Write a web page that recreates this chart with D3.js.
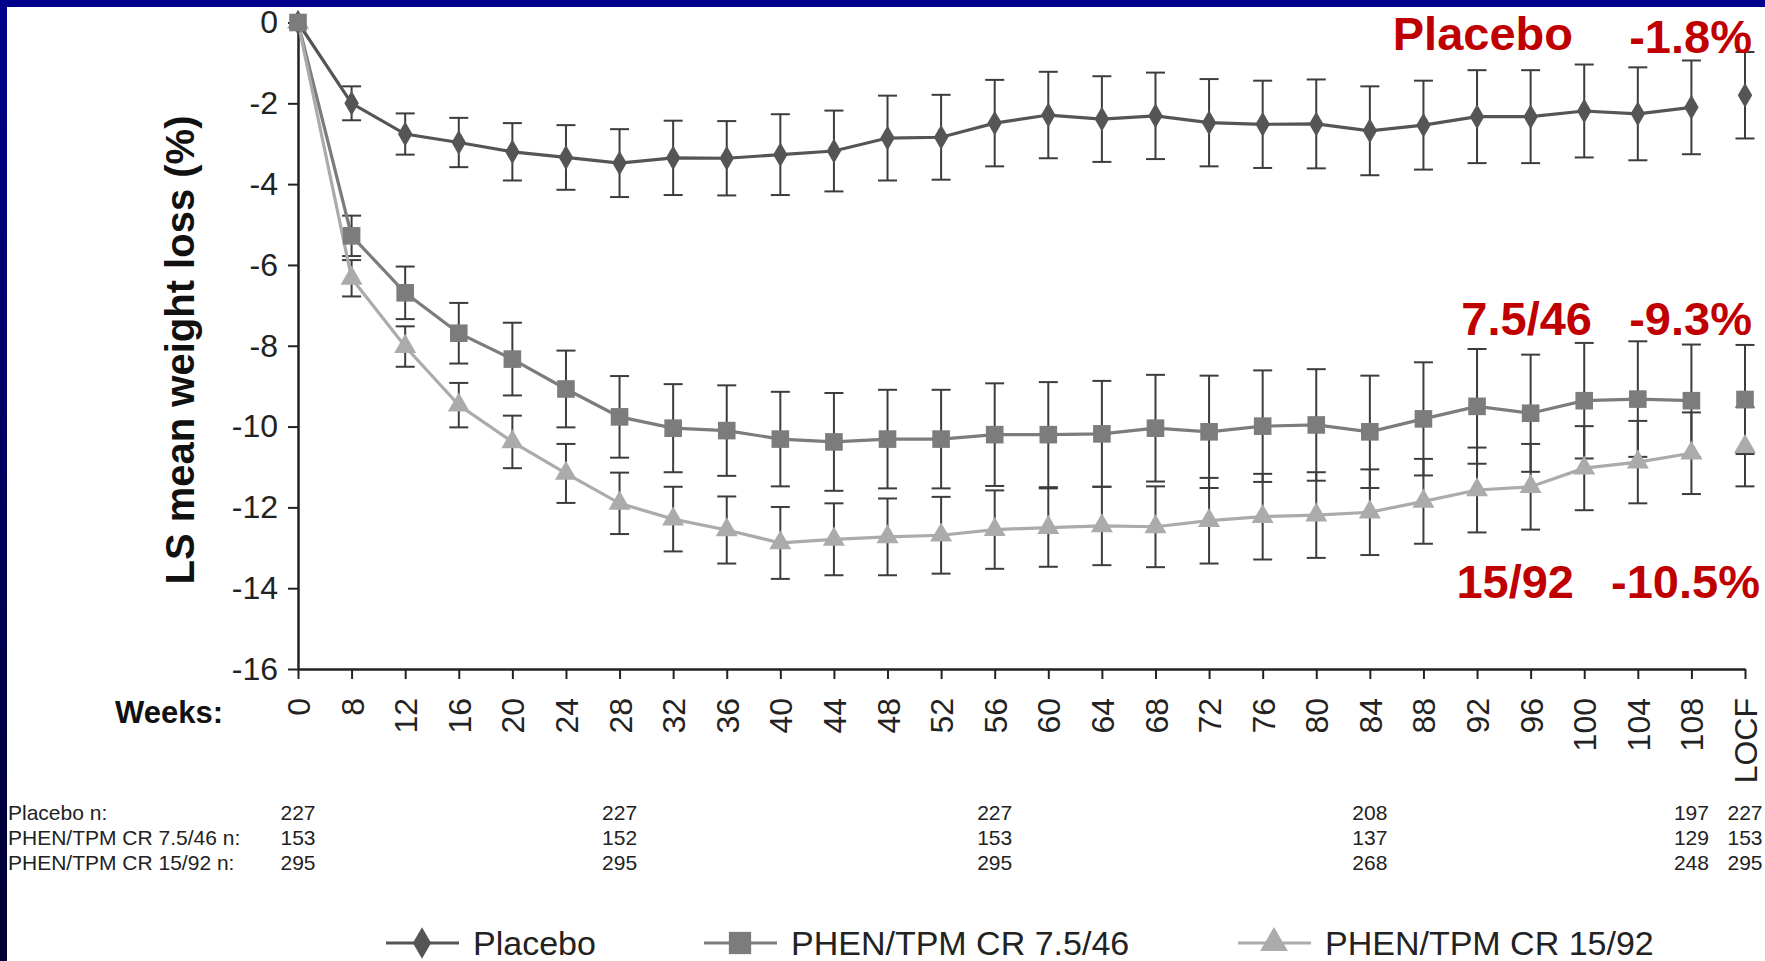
<!DOCTYPE html>
<html>
<head>
<meta charset="utf-8">
<script src="https://cdn.jsdelivr.net/npm/d3@7"></script>
<style>
  html, body { margin: 0; padding: 0; background: #fff; }
  svg { display: block; font-family: "Liberation Sans", Arial, sans-serif; }
</style>
</head>
<body>
<script>
// categories on the x axis
const weeks = ["0", "8", "12", "16", "20", "24", "28", "32", "36", "40", "44", "48", "52", "56",
  "60", "64", "68", "72", "76", "80", "84", "88", "92", "96", "100", "104", "108", "LOCF"];

// LS mean weight loss (%) and error half-widths
const placeboMean = [0, -2.0, -2.76, -2.97, -3.2, -3.34, -3.48, -3.35, -3.36, -3.27, -3.18, -2.86, -2.84, -2.49,
  -2.29, -2.39, -2.31, -2.48, -2.52, -2.51, -2.68, -2.54, -2.33, -2.33, -2.19, -2.26, -2.1, -1.8];
const placeboErr = [0, 0.42, 0.51, 0.61, 0.71, 0.8, 0.84, 0.92, 0.92, 1.0, 1.0, 1.05, 1.05, 1.07,
  1.07, 1.06, 1.07, 1.08, 1.08, 1.1, 1.1, 1.1, 1.15, 1.15, 1.15, 1.15, 1.16, 1.07];

const lowMean = [0, -5.28, -6.69, -7.69, -8.33, -9.07, -9.76, -10.04, -10.1, -10.31, -10.38, -10.31, -10.31, -10.2,
  -10.2, -10.18, -10.04, -10.13, -9.99, -9.96, -10.13, -9.81, -9.5, -9.67, -9.36, -9.32, -9.36, -9.33];
const lowErr = [0, 0.5, 0.65, 0.75, 0.9, 0.95, 1.01, 1.09, 1.12, 1.17, 1.21, 1.22, 1.22, 1.27,
  1.3, 1.31, 1.32, 1.39, 1.38, 1.38, 1.39, 1.4, 1.42, 1.45, 1.43, 1.43, 1.39, 1.35];

const highMean = [0, -6.33, -8.02, -9.47, -10.38, -11.16, -11.9, -12.29, -12.56, -12.88, -12.79, -12.73, -12.69, -12.55,
  -12.5, -12.46, -12.48, -12.33, -12.23, -12.19, -12.12, -11.85, -11.57, -11.49, -11.03, -10.88, -10.66, -10.5];
const highErr = [0, 0.45, 0.5, 0.55, 0.65, 0.73, 0.76, 0.8, 0.83, 0.89, 0.89, 0.95, 0.95, 0.97,
  0.97, 0.97, 1.0, 1.06, 1.06, 1.06, 1.06, 1.05, 1.05, 1.06, 1.04, 1.02, 1.01, 0.98];

const yTicks = [0, -2, -4, -6, -8, -10, -12, -14, -16];

// patients at risk table
const nWeeks = ["0", "28", "56", "84", "108", "LOCF"];
const nRowLabels = ["Placebo n:", "PHEN/TPM CR 7.5/46 n:", "PHEN/TPM CR 15/92 n:"];
const placeboN = [227, 227, 227, 208, 197, 227];
const lowN = [153, 152, 153, 137, 129, 153];
const highN = [295, 295, 295, 268, 248, 295];

// red call-outs
const calloutNames = ["Placebo", "7.5/46", "15/92"];
const calloutValues = ["-1.8%", "-9.3%", "-10.5%"];

const width = 1765, height = 961;

const svg = d3.select("body").append("svg")
  .attr("width", width)
  .attr("height", height);

// navy frame
const grad = svg.append("defs").append("linearGradient")
  .attr("id", "leftBand").attr("x1", 0).attr("y1", 0).attr("x2", 0).attr("y2", 1);
grad.append("stop").attr("offset", "0%").attr("stop-color", "#00008c");
grad.append("stop").attr("offset", "100%").attr("stop-color", "#000032");
svg.append("rect").attr("width", width).attr("height", 7).attr("fill", "#00008c");
svg.append("rect").attr("width", 7).attr("height", height).attr("fill", "url(#leftBand)");

// scales
const x = d3.scalePoint().domain(weeks).range([298, 1745]);
const y = d3.scaleLinear().domain([-16, 0]).range([669, 22.5]);

const series = [
  { name: "Placebo", mean: placeboMean, err: placeboErr, color: "#555555", shape: d3.symbolDiamond, size: 180 },
  { name: "PHEN/TPM CR 7.5/46", mean: lowMean, err: lowErr, color: "#7c7c7c", shape: d3.symbolSquare, size: 310 },
  { name: "PHEN/TPM CR 15/92", mean: highMean, err: highErr, color: "#ababab", shape: d3.symbolTriangle, size: 210 }
];

// axes
const yAxis = d3.axisLeft(y).tickValues(yTicks).tickSize(10).tickSizeOuter(0).tickFormat(d => String(d));
const gy = svg.append("g").attr("transform", "translate(298,0)").call(yAxis);
gy.select(".domain").attr("stroke", "#222").attr("stroke-width", 2.5);
gy.selectAll(".tick line").attr("stroke", "#222").attr("stroke-width", 2);
gy.selectAll(".tick text")
  .attr("x", -20)
  .attr("fill", "#222")
  .style("font-size", "32px");

const xAxis = d3.axisBottom(x).tickSize(10).tickSizeOuter(0);
const gx = svg.append("g").attr("transform", "translate(0,669)").call(xAxis);
gx.select(".domain").attr("stroke", "#222").attr("stroke-width", 2.5);
gx.selectAll(".tick line").attr("stroke", "#222").attr("stroke-width", 2);
gx.selectAll(".tick text")
  .attr("transform", "rotate(-90)")
  .attr("x", -29)
  .attr("y", 0)
  .attr("dy", "0.36em")
  .attr("fill", "#222")
  .style("text-anchor", "end")
  .style("font-size", "32px");

svg.append("text")
  .attr("x", 223).attr("y", 723)
  .attr("text-anchor", "end")
  .attr("font-weight", "bold")
  .attr("font-size", 31)
  .attr("fill", "#111")
  .text("Weeks:");

svg.append("text")
  .attr("transform", "translate(194,350) rotate(-90)")
  .attr("text-anchor", "middle")
  .attr("font-weight", "bold")
  .attr("font-size", 40)
  .attr("fill", "#111")
  .text("LS mean weight loss (%)");

// error bars
const capHalf = 9.5;
series.forEach(s => {
  const g = svg.append("g").attr("stroke", "#3c3c3c").attr("stroke-width", 2);
  weeks.forEach((w, i) => {
    if (s.err[i] === 0) return;
    const top = y(s.mean[i] + s.err[i]), bot = y(s.mean[i] - s.err[i]);
    g.append("line").attr("x1", x(w)).attr("x2", x(w)).attr("y1", top).attr("y2", bot);
    g.append("line").attr("x1", x(w) - capHalf).attr("x2", x(w) + capHalf).attr("y1", top).attr("y2", top);
    g.append("line").attr("x1", x(w) - capHalf).attr("x2", x(w) + capHalf).attr("y1", bot).attr("y2", bot);
  });
});

// lines (LOCF point stands alone)
const line = d3.line().x(d => x(d.w)).y(d => y(d.v));
series.forEach(s => {
  const pts = weeks.slice(0, weeks.length - 1).map((w, i) => ({ w: w, v: s.mean[i] }));
  svg.append("path")
    .attr("d", line(pts))
    .attr("fill", "none")
    .attr("stroke", s.color)
    .attr("stroke-width", 3.2);
});

// markers
[series[2], series[0], series[1]].forEach(s => {
  svg.append("g").selectAll("path")
    .data(weeks.map((w, i) => ({ w: w, v: s.mean[i] })))
    .join("path")
    .attr("transform", d => `translate(${x(d.w)},${y(d.v)})`)
    .attr("d", d3.symbol().type(s.shape).size(s.size))
    .attr("fill", s.color);
});

// n table
const nRows = [placeboN, lowN, highN];
const rowY = [820, 845, 870];
nRowLabels.forEach((lab, r) => {
  svg.append("text")
    .attr("x", 8).attr("y", rowY[r])
    .attr("font-size", 21)
    .attr("fill", "#222")
    .text(lab);
  svg.append("g").selectAll("text")
    .data(nRows[r])
    .join("text")
    .attr("x", (d, i) => x(nWeeks[i]))
    .attr("y", rowY[r])
    .attr("text-anchor", "middle")
    .attr("font-size", 21)
    .attr("fill", "#222")
    .text(d => d);
});

// red call-outs
const calloutNameX = [1573, 1592, 1574];
const calloutValX = [1752, 1752, 1760];
const calloutY = [50, 335, 598];
calloutNames.forEach((t, i) => {
  svg.append("text")
    .attr("x", calloutNameX[i]).attr("y", calloutY[i])
    .attr("text-anchor", "end")
    .attr("font-weight", "bold").attr("font-size", 47)
    .attr("fill", "#c00000")
    .text(t);
  svg.append("text")
    .attr("x", calloutValX[i]).attr("y", calloutY[i] + (i === 0 ? 3 : 0))
    .attr("text-anchor", "end")
    .attr("font-weight", "bold").attr("font-size", 47)
    .attr("fill", "#c00000")
    .text(calloutValues[i]);
});

// legend
const legendX = [386, 704, 1238];
const legend = svg.append("g");
series.forEach((s, i) => {
  const g = legend.append("g").attr("transform", `translate(${legendX[i]},943)`);
  g.append("line").attr("x1", 0).attr("x2", 73).attr("stroke", s.color).attr("stroke-width", 3);
  g.append("path")
    .attr("transform", "translate(36,0)")
    .attr("d", d3.symbol().type(s.shape).size(s.size * 1.6))
    .attr("fill", s.color);
  g.append("text")
    .attr("x", 87).attr("y", 12)
    .attr("font-size", 34)
    .attr("fill", "#222")
    .text(s.name);
});
</script>
</body>
</html>
